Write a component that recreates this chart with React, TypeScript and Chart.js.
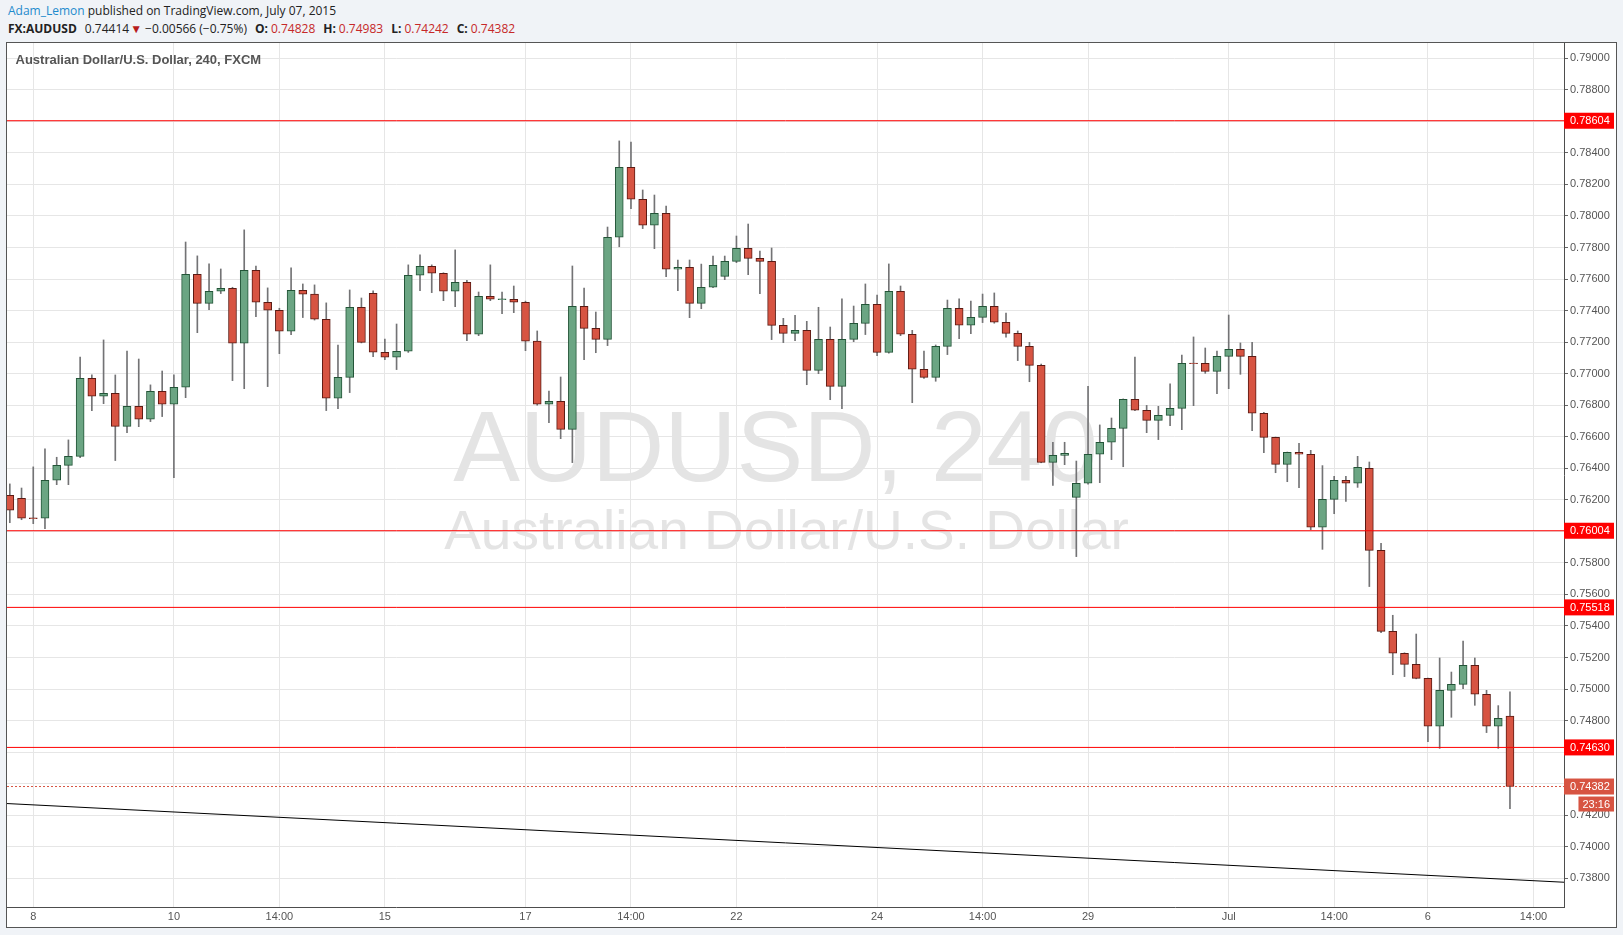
import React, { useEffect, useRef } from 'react';
import { Chart, registerables } from 'chart.js';

Chart.register(...registerables);

// ---- candle data (4h AUDUSD) ----
const OPEN = [
  0.76229, 0.76210, 0.76086, 0.76083, 0.76324, 0.76419, 0.76476, 0.76971, 0.76857, 0.76876,
  0.76666, 0.76793, 0.76711, 0.76888, 0.76806, 0.76914, 0.77630, 0.77446, 0.77523, 0.77542,
  0.77193, 0.77656, 0.77453, 0.77402, 0.77269, 0.77529, 0.77504, 0.77345, 0.76844, 0.76977,
  0.77421, 0.77510, 0.77136, 0.77104, 0.77142, 0.77624, 0.77681, 0.77637, 0.77523, 0.77580,
  0.77250, 0.77491, 0.77470, 0.77472, 0.77453, 0.77206, 0.76806, 0.76825, 0.76647, 0.77427,
  0.77287, 0.77218, 0.77865, 0.78309, 0.78106, 0.77941, 0.78017, 0.77662, 0.77674, 0.77446,
  0.77548, 0.77617, 0.77712, 0.77795, 0.77731, 0.77712, 0.77306, 0.77256, 0.77275, 0.77021,
  0.77218, 0.76920, 0.77218, 0.77319, 0.77440, 0.77135, 0.77522, 0.77250, 0.77028, 0.76977,
  0.77173, 0.77414, 0.77307, 0.77357, 0.77427, 0.77326, 0.77256, 0.77173, 0.77053, 0.76438,
  0.76482, 0.76216, 0.76305, 0.76489, 0.76565, 0.76653, 0.76837, 0.76768, 0.76704, 0.76736,
  0.76780, 0.77068, 0.77066, 0.77015, 0.77110, 0.77155, 0.77110, 0.76749, 0.76596, 0.76425,
  0.76501, 0.76489, 0.76026, 0.76203, 0.76324, 0.76305, 0.76400, 0.75880, 0.75366, 0.75227,
  0.75157, 0.75068, 0.74764, 0.74992, 0.75030, 0.75151, 0.74967, 0.74764, 0.74828,
];
const HIGH = [
  0.76301, 0.76275, 0.76409, 0.76523, 0.76470, 0.76580, 0.77106, 0.76992, 0.77214, 0.76992,
  0.77144, 0.77093, 0.76929, 0.77017, 0.76992, 0.77835, 0.77747, 0.77696, 0.77664, 0.77548,
  0.77912, 0.77683, 0.77544, 0.77415, 0.77671, 0.77569, 0.77563, 0.77449, 0.77182, 0.77531,
  0.77480, 0.77525, 0.77220, 0.77315, 0.77690, 0.77753, 0.77690, 0.77640, 0.77785, 0.77592,
  0.77518, 0.77690, 0.77518, 0.77556, 0.77460, 0.77271, 0.76890, 0.76979, 0.77683, 0.77543,
  0.77391, 0.77930, 0.78476, 0.78469, 0.78165, 0.78133, 0.78063, 0.77721, 0.77721, 0.77695,
  0.77746, 0.77746, 0.77873, 0.77949, 0.77778, 0.77797, 0.77351, 0.77370, 0.77332, 0.77421,
  0.77296, 0.77474, 0.77429, 0.77569, 0.77499, 0.77696, 0.77556, 0.77275, 0.77144, 0.77182,
  0.77467, 0.77474, 0.77461, 0.77505, 0.77512, 0.77385, 0.77271, 0.77199, 0.77061, 0.76565,
  0.76565, 0.76446, 0.76920, 0.76675, 0.76719, 0.76840, 0.77106, 0.76799, 0.76793, 0.76935,
  0.77118, 0.77233, 0.77163, 0.77144, 0.77372, 0.77195, 0.77199, 0.76755, 0.76598, 0.76503,
  0.76558, 0.76514, 0.76417, 0.76349, 0.76349, 0.76476, 0.76440, 0.75924, 0.75468, 0.75230,
  0.75349, 0.75070, 0.75197, 0.75108, 0.75305, 0.75197, 0.74992, 0.74895, 0.74983,
];
const LOW = [
  0.76055, 0.76074, 0.76049, 0.76017, 0.76296, 0.76296, 0.76468, 0.76766, 0.76810, 0.76449,
  0.76626, 0.76664, 0.76696, 0.76728, 0.76341, 0.76848, 0.77260, 0.77406, 0.77508, 0.76956,
  0.76905, 0.77362, 0.76918, 0.77127, 0.77248, 0.77356, 0.77340, 0.76766, 0.76778, 0.76880,
  0.77195, 0.77108, 0.77089, 0.77026, 0.77135, 0.77527, 0.77514, 0.77463, 0.77425, 0.77210,
  0.77241, 0.77463, 0.77381, 0.77387, 0.77146, 0.76800, 0.76689, 0.76588, 0.76436, 0.77089,
  0.77133, 0.77178, 0.77805, 0.78046, 0.77920, 0.77793, 0.77615, 0.77526, 0.77355, 0.77412,
  0.77545, 0.77596, 0.77704, 0.77628, 0.77507, 0.77216, 0.77197, 0.77209, 0.76930, 0.77000,
  0.76835, 0.76778, 0.77203, 0.77248, 0.77114, 0.77130, 0.77241, 0.76816, 0.76970, 0.76952,
  0.77121, 0.77222, 0.77254, 0.77324, 0.77320, 0.77231, 0.77083, 0.76949, 0.76435, 0.76292,
  0.76423, 0.75840, 0.76300, 0.76309, 0.76455, 0.76410, 0.76765, 0.76626, 0.76582, 0.76670,
  0.76645, 0.76797, 0.77002, 0.76873, 0.76905, 0.76996, 0.76639, 0.76499, 0.76372, 0.76315,
  0.76277, 0.76011, 0.75886, 0.76112, 0.76190, 0.76279, 0.75650, 0.75358, 0.75091, 0.75079,
  0.75065, 0.74667, 0.74624, 0.74821, 0.75003, 0.74897, 0.74724, 0.74624, 0.74242,
];
const CLOSE = [
  0.76134, 0.76083, 0.76080, 0.76324, 0.76419, 0.76476, 0.76971, 0.76857, 0.76876, 0.76666,
  0.76793, 0.76711, 0.76888, 0.76806, 0.76914, 0.77630, 0.77446, 0.77523, 0.77542, 0.77193,
  0.77656, 0.77453, 0.77402, 0.77269, 0.77529, 0.77504, 0.77345, 0.76844, 0.76977, 0.77421,
  0.77199, 0.77136, 0.77104, 0.77142, 0.77624, 0.77681, 0.77637, 0.77523, 0.77580, 0.77250,
  0.77491, 0.77472, 0.77474, 0.77453, 0.77206, 0.76806, 0.76825, 0.76647, 0.77427, 0.77287,
  0.77218, 0.77865, 0.78309, 0.78106, 0.77941, 0.78017, 0.77662, 0.77674, 0.77446, 0.77548,
  0.77687, 0.77712, 0.77795, 0.77731, 0.77712, 0.77306, 0.77256, 0.77275, 0.77021, 0.77218,
  0.76920, 0.77218, 0.77319, 0.77440, 0.77135, 0.77522, 0.77250, 0.77028, 0.76977, 0.77173,
  0.77414, 0.77307, 0.77357, 0.77427, 0.77326, 0.77256, 0.77173, 0.77053, 0.76438, 0.76482,
  0.76495, 0.76305, 0.76489, 0.76565, 0.76653, 0.76837, 0.76768, 0.76704, 0.76736, 0.76780,
  0.77066, 0.77064, 0.77015, 0.77110, 0.77155, 0.77110, 0.76749, 0.76596, 0.76425, 0.76501,
  0.76489, 0.76026, 0.76203, 0.76324, 0.76305, 0.76406, 0.75880, 0.75366, 0.75227, 0.75157,
  0.75068, 0.74764, 0.74992, 0.75030, 0.75151, 0.74967, 0.74764, 0.74814, 0.74382,
];

// ---- axis ticks ----
const X_TICK_POS = [2, 14, 23, 32, 44, 53, 62, 74, 83, 92, 104, 113, 121, 130];
const X_TICK_LABELS = ['8', '10', '14:00', '15', '17', '14:00', '22', '24', '14:00', '29', 'Jul', '14:00', '6', '14:00'];
const Y_TICKS = [
  0.738, 0.740, 0.742, 0.744, 0.746, 0.748, 0.750, 0.752, 0.754, 0.756, 0.758, 0.760, 0.762, 0.764,
  0.766, 0.768, 0.770, 0.772, 0.774, 0.776, 0.778, 0.780, 0.782, 0.784, 0.786, 0.788, 0.790,
];
const Y_HIDDEN_TICKS = [0.786, 0.760, 0.746, 0.744];

// ---- drawings ----
const LEVELS = [0.78604, 0.76004, 0.75518, 0.74630];
const LAST_PRICE = 0.74382;
const COUNTDOWN = '23:16';
const TREND_START = 0.74274;
const TREND_END = 0.73775;

const X_MIN = -0.24;
const X_MAX = 132.61;
const Y_MIN = 0.73618;
const Y_MAX = 0.79097;

const UP_FILL = '#6ba583';
const UP_BORDER = '#225437';
const DOWN_FILL = '#d75442';
const DOWN_BORDER = '#5b1a13';
const WICK = '#737375';
const FONT = "Arial, 'Liberation Sans', sans-serif";
const HFONT = "'Open Sans', 'Noto Sans', sans-serif";

export default function App() {
  const ref = useRef<HTMLCanvasElement>(null);

  useEffect(() => {
    const canvas = ref.current;
    if (!canvas) return;
    const idx = OPEN.map((_, i) => i);
    const up = idx.map((i) => CLOSE[i] >= OPEN[i]);

    const overlay = {
      id: 'overlay',
      beforeDatasetsDraw(chart: any) {
        const { ctx, chartArea } = chart;
        ctx.save();
        const cx = (chartArea.left + chartArea.right) / 2;
        ctx.fillStyle = '#e4e4e4';
        ctx.textAlign = 'center';
        ctx.textBaseline = 'alphabetic';
        ctx.font = `100px ${FONT}`;
        ctx.fillText('AUDUSD, 240', cx - 10, chartArea.top + 438);
        ctx.font = `55px ${FONT}`;
        ctx.fillText('Australian Dollar/U.S. Dollar', cx + 1, chartArea.top + 506);
        ctx.textAlign = 'left';
        ctx.textBaseline = 'middle';
        ctx.fillStyle = '#555555';
        ctx.font = `bold 13px ${FONT}`;
        ctx.fillText('Australian Dollar/U.S. Dollar, 240, FXCM', chartArea.left + 8.5, chartArea.top + 17);
        ctx.restore();
      },
      afterDraw(chart: any) {
        const { ctx, chartArea, scales } = chart;
        const ys = scales.y;
        ctx.save();
        ctx.font = `11px ${FONT}`;
        ctx.textBaseline = 'middle';
        const box = (v: number, color: string) => {
          const py = ys.getPixelForValue(v);
          ctx.fillStyle = color;
          ctx.fillRect(chartArea.right, py - 8, 50, 16);
          ctx.fillStyle = '#ffffff';
          ctx.textAlign = 'left';
          ctx.fillText(v.toFixed(5), chartArea.right + 6, py + 0.5);
          return py;
        };
        LEVELS.forEach((v) => box(v, '#ff0000'));
        const py = box(LAST_PRICE, DOWN_FILL);
        const w = ctx.measureText(COUNTDOWN).width + 8;
        ctx.fillStyle = DOWN_FILL;
        ctx.fillRect(chartArea.right + 50 - w, py + 10, w, 15);
        ctx.fillStyle = '#ffffff';
        ctx.textAlign = 'center';
        ctx.fillText(COUNTDOWN, chartArea.right + 50 - w / 2, py + 18);
        ctx.restore();
      },
    };

    const lineDs = (y0: number, y1: number, color: string, dash: number[], order: number) => ({
      type: 'line' as const,
      data: [
        { x: X_MIN, y: y0 },
        { x: X_MAX, y: y1 },
      ],
      borderColor: color,
      borderWidth: 1,
      borderDash: dash,
      pointRadius: 0,
      fill: false,
      order,
    });

    const chart = new Chart(canvas, {
      type: 'bar',
      data: {
        datasets: [
          lineDs(TREND_START, TREND_END, '#000000', [], -2) as any,
          ...LEVELS.map((v) => lineDs(v, v, '#ff0000', [], -1) as any),
          lineDs(LAST_PRICE, LAST_PRICE, DOWN_FILL, [2, 2], -1) as any,
          {
            type: 'bar',
            data: idx.map((i) => ({ x: i, y: [OPEN[i], CLOSE[i]] })),
            backgroundColor: up.map((u) => (u ? UP_FILL : DOWN_FILL)),
            borderColor: up.map((u) => (u ? UP_BORDER : DOWN_BORDER)),
            borderWidth: 1,
            borderSkipped: false,
            barThickness: 8,
            grouped: false,
            order: 0,
          } as any,
          {
            type: 'bar',
            data: idx.map((i) => ({ x: i, y: [LOW[i], HIGH[i]] })),
            backgroundColor: WICK,
            borderWidth: 0,
            barThickness: 1,
            grouped: false,
            order: 1,
          } as any,
        ],
      },
      options: {
        responsive: false,
        animation: false,
        events: [],
        layout: { padding: 0 },
        plugins: { legend: { display: false }, tooltip: { enabled: false } },
        scales: {
          x: {
            type: 'linear',
            min: X_MIN,
            max: X_MAX,
            offset: false,
            bounds: 'data',
            grid: { color: '#e6e6e6', lineWidth: 1, drawTicks: false, offset: false },
            border: { display: true, color: '#4d4d4d', width: 1 },
            ticks: {
              autoSkip: false,
              maxRotation: 0,
              padding: 3,
              color: '#555555',
              font: { size: 11, family: FONT },
              callback: (_v: any, i: number) => X_TICK_LABELS[i] ?? '',
            },
            afterBuildTicks: (s: any) => {
              s.ticks = X_TICK_POS.map((v) => ({ value: v }));
            },
            afterFit: (s: any) => {
              s.height = 20;
              s.paddingLeft = 0;
              s.paddingRight = 0;
            },
          } as any,
          y: {
            type: 'linear',
            position: 'right',
            min: Y_MIN,
            max: Y_MAX,
            bounds: 'data',
            grid: { color: '#e6e6e6', lineWidth: 1, drawTicks: true, tickLength: 4, tickColor: '#666666' },
            border: { display: true, color: '#4d4d4d', width: 1 },
            ticks: {
              autoSkip: false,
              padding: 2,
              color: '#555555',
              font: { size: 11, family: FONT },
              callback: (v: any) => {
                const n = Number(v);
                return Y_HIDDEN_TICKS.some((h) => Math.abs(h - n) < 1e-6) ? '' : n.toFixed(5);
              },
            },
            afterBuildTicks: (s: any) => {
              s.ticks = Y_TICKS.map((v) => ({ value: v }));
            },
            afterFit: (s: any) => {
              s.width = 52;
              s.paddingTop = 0;
              s.paddingBottom = 0;
            },
          } as any,
        },
      },
      plugins: [overlay],
    });
    return () => chart.destroy();
  }, []);

  const red = '#c62828';
  const gap = { marginLeft: 8 };
  return (
    <div
      style={{
        position: 'absolute',
        left: 0,
        top: 0,
        width: 1623,
        height: 935,
        background: '#f0f3f7',
        overflow: 'hidden',
      }}
    >
      <div
        style={{
          position: 'absolute',
          left: 8,
          top: 2,
          font: `12px ${HFONT}`,
          lineHeight: '17px',
          color: '#222',
          whiteSpace: 'nowrap',
        }}
      >
        <span style={{ color: '#1e8bcd' }}>Adam_Lemon</span> published on TradingView.com, July 07, 2015
      </div>
      <div
        style={{
          position: 'absolute',
          left: 8,
          top: 20,
          font: `12px ${HFONT}`,
          lineHeight: '17px',
          color: '#222',
          whiteSpace: 'nowrap',
        }}
      >
        <b>FX:AUDUSD</b>
        <span style={{ marginLeft: 8 }}>0.74414</span>
        <span style={{ color: '#b71c1c', marginLeft: 1 }}>▼</span>
        <span style={{ marginLeft: 3 }}>−0.00566 (−0.75%)</span>
        <b style={gap}>O:</b>
        <span style={{ color: red, marginLeft: 3 }}>0.74828</span>
        <b style={gap}>H:</b>
        <span style={{ color: red, marginLeft: 3 }}>0.74983</span>
        <b style={gap}>L:</b>
        <span style={{ color: red, marginLeft: 3 }}>0.74242</span>
        <b style={gap}>C:</b>
        <span style={{ color: red, marginLeft: 3 }}>0.74382</span>
      </div>
      <div
        style={{
          position: 'absolute',
          left: 6,
          top: 42,
          width: 1609,
          height: 884,
          border: '1px solid #555555',
          background: '#ffffff',
        }}
      >
        <canvas ref={ref} width={1609} height={884} style={{ display: 'block' }} />
      </div>
    </div>
  );
}
